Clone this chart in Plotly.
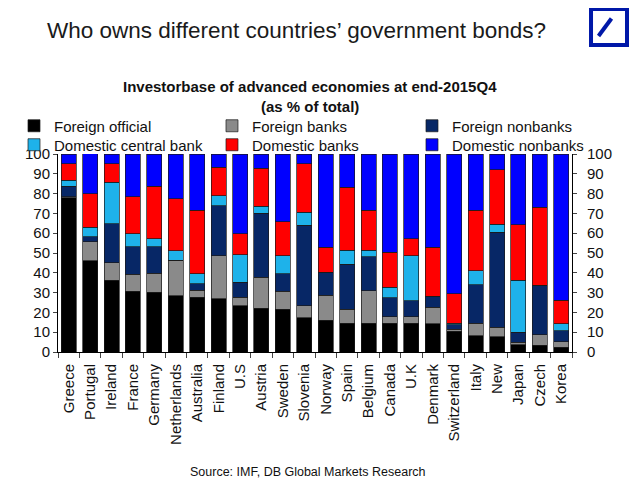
import plotly.graph_objects as go

# страны и доли держателей госдолга, % от общего объёма (конец 2015Q4)
countries = ["Greece", "Portugal", "Ireland", "France", "Germany", "Netherlands",
             "Australia", "Finland", "U.S", "Austria", "Sweden", "Slovenia",
             "Norway", "Spain", "Belgium", "Canada", "U.K", "Denmark",
             "Switzerland", "Italy", "New", "Japan", "Czech", "Korea"]

foreign_official = [78, 46, 36.2, 30.6, 30.1, 28.5, 27.6, 27, 23.4, 22.2, 21.7, 17.2,
                    16, 14.6, 14.6, 14.6, 14.5, 14.3, 10.4, 8.2, 7.6, 3.7, 3.4, 2.5]
foreign_banks = [0.5, 9.6, 8.9, 8.6, 9.6, 17.8, 3.5, 21.7, 4.2, 15.5, 8.9, 6.2,
                 12.6, 7.1, 16.4, 3.1, 3.2, 8.3, 1.2, 6.4, 4.9, 1.2, 5.4, 2.6]
foreign_nonbanks = [5.2, 2.5, 19.7, 14, 13.5, 0, 3.4, 25.2, 7.6, 32.5, 8.8, 40.6,
                    11.8, 22.7, 17, 9.6, 8.2, 5.5, 2.2, 19.4, 47.9, 5.2, 24.9, 5.7]
domestic_central_bank = [3, 5, 20.9, 6.6, 3.9, 4.9, 4.9, 5.1, 14, 3.4, 9.3, 6.7,
                         0, 7.1, 3.5, 5.4, 22.8, 0, 0.8, 7.1, 4.2, 26.1, 0, 3.5]
domestic_banks = [8.4, 16.8, 9.4, 18.5, 26.6, 26.1, 32.3, 14.2, 10.6, 19.3, 17, 24.4,
                  12.6, 31.7, 20, 17.6, 8.4, 24.9, 14.7, 30.4, 27.5, 28.1, 39.5, 11.8]
domestic_nonbanks = [4.9, 20.2, 4.9, 21.7, 16.3, 22.7, 28.3, 6.7, 40.2, 7.1, 34.3, 4.9,
                     47, 16.8, 28.5, 49.7, 42.9, 47, 70.7, 28.5, 7.9, 35.7, 26.8, 73.9]

y_ticks = list(range(0, 101, 10))

series = [
    ("Foreign official", foreign_official, "#000000"),
    ("Foreign banks", foreign_banks, "#8a8a8a"),
    ("Foreign nonbanks", foreign_nonbanks, "#072766"),
    ("Domestic central bank", domestic_central_bank, "#1eb2ea"),
    ("Domestic banks", domestic_banks, "#ff0000"),
    ("Domestic nonbanks", domestic_nonbanks, "#0000ff"),
]

font = "Liberation Sans, Arial, sans-serif"

# у страницы есть отступ body 8px, поэтому фигура чуть меньше окна
fig = go.Figure()
legend_ids = ["legend", "legend2", "legend3", "legend4", "legend5", "legend6"]
for (name, vals, color), lg in zip(series, legend_ids):
    fig.add_trace(go.Bar(x=countries, y=vals, name=name, legend=lg,
                         marker=dict(color=color, line=dict(color="#1a1a1a", width=0.7))))

# невидимый след, чтобы правая ось отрисовалась
fig.add_trace(go.Scatter(x=countries, y=foreign_official, yaxis="y2", mode="lines",
                         line=dict(width=0), showlegend=False, hoverinfo="skip"))

axis_common = dict(range=[0, 100], tickvals=y_ticks, ticks="outside", ticklen=4,
                   showline=True, linecolor="#000", linewidth=1, showgrid=False,
                   zeroline=False, automargin=False,
                   tickfont=dict(size=15, color="#111"))

# легенда: 3 колонки x 2 строки, каждая запись отдельной легендой
col_x = [-0.0856, 0.2996, 0.6887]
row_y = [1.2247, 1.1288]
legends = {}
for i, lg in enumerate(legend_ids):
    legends[lg] = dict(x=col_x[i % 3], y=row_y[i // 3], xanchor="left", yanchor="top",
                       orientation="v", itemwidth=30, bgcolor="rgba(0,0,0,0)",
                       font=dict(size=15, color="#111"))

fig.update_layout(
    width=632, height=472,
    margin=dict(l=50, r=68, t=146, b=128, autoexpand=False),
    paper_bgcolor="white", plot_bgcolor="white",
    font=dict(family=font, color="#111"),
    barmode="stack", bargap=0.3,
    showlegend=True,
    xaxis=dict(showline=True, linecolor="#000", linewidth=1, ticks="outside",
               tickson="boundaries", ticklen=5, tickangle=-90, automargin=False,
               ticklabelstandoff=5,
               tickfont=dict(size=15, color="#111"), showgrid=False),
    yaxis=dict(side="left", **axis_common),
    yaxis2=dict(side="right", overlaying="y", anchor="x", ticklabelstandoff=7,
                **axis_common),
    **legends,
)

# заголовки и подпись источника
fig.add_annotation(text="Who owns different countries\u2019 government bonds?",
                   xref="paper", yref="paper", x=-0.025, y=1.626,
                   xanchor="left", yanchor="middle", showarrow=False,
                   font=dict(size=22.5, color="#1a1a1a"))
fig.add_annotation(text="<b>Investorbase of advanced economies at end-2015Q4</b>",
                   xref="paper", yref="paper", x=0.49, y=1.343,
                   xanchor="center", yanchor="middle", showarrow=False,
                   font=dict(size=15, color="#111"))
fig.add_annotation(text="<b>(as % of total)</b>",
                   xref="paper", yref="paper", x=0.49, y=1.242,
                   xanchor="center", yanchor="middle", showarrow=False,
                   font=dict(size=15, color="#111"))
fig.add_annotation(text="Source: IMF, DB Global Markets Research",
                   xref="paper", yref="paper", x=0.487, y=-0.606,
                   xanchor="center", yanchor="middle", showarrow=False,
                   font=dict(size=12.5, color="#111"))

# логотип в правом верхнем углу
fig.add_shape(type="rect", xref="paper", yref="paper",
              x0=1.037, x1=1.107, y0=1.5505, y1=1.732,
              line=dict(color="#0018a8", width=4), fillcolor="white")
fig.add_shape(type="line", xref="paper", yref="paper",
              x0=1.0516, y0=1.596, x1=1.0768, y1=1.684,
              line=dict(color="#0018a8", width=4))

fig.write_html("out.html")
